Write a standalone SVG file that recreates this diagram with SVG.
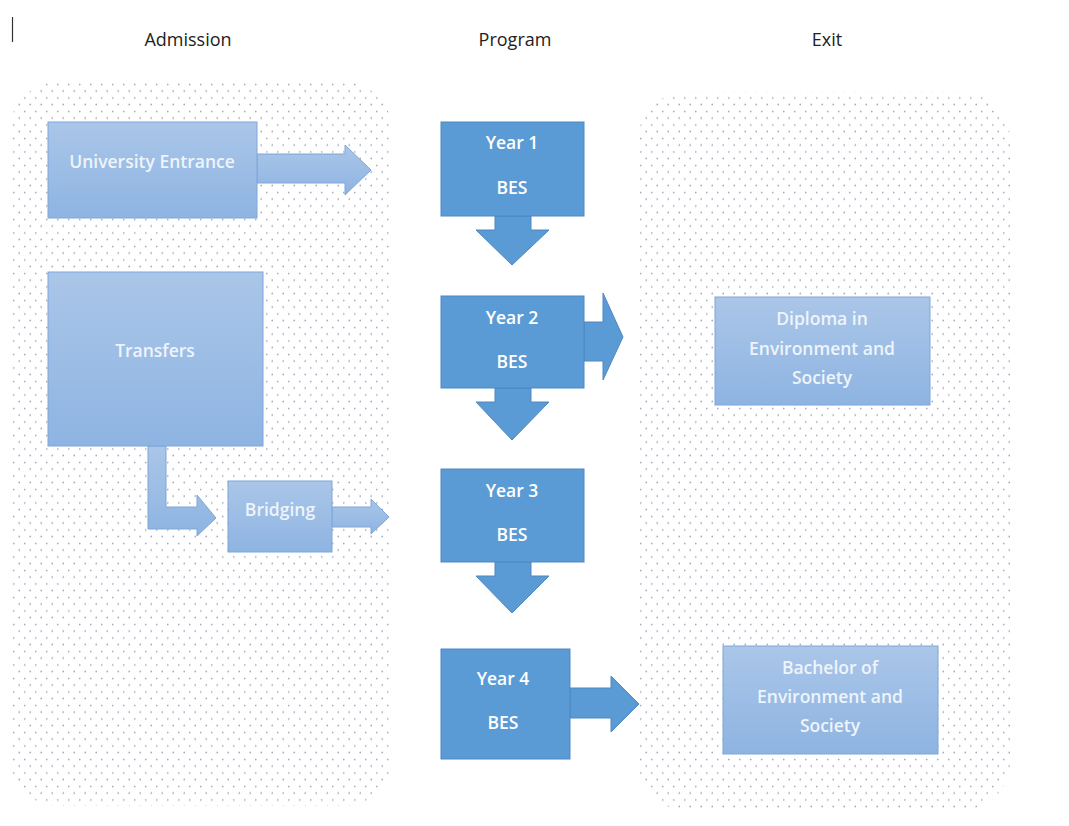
<svg xmlns="http://www.w3.org/2000/svg" width="1069" height="826" viewBox="0 0 1069 826">
<style>
.hdr{font-family:"Open Sans","Noto Sans",sans-serif;font-size:18px;fill:#222;text-anchor:middle}
.lbl{font-family:"Open Sans","Noto Sans",sans-serif;font-size:17.5px;font-weight:600;fill:#eef4fb;text-anchor:middle}
.yr{font-family:"Open Sans","Noto Sans",sans-serif;font-size:17.5px;font-weight:600;fill:#ffffff;text-anchor:middle}
.light{fill:url(#lg);stroke:#7ea6d8;stroke-width:1}
.dark{fill:#5b9bd5;stroke:#4f88c2;stroke-width:1}
.panel{fill:url(#dots)}
</style>
<defs>
<pattern id="dots" x="0" y="0" width="11" height="13.5" patternUnits="userSpaceOnUse">
<rect width="11" height="13.5" fill="#ffffff"/>
<circle cx="2.75" cy="3.4" r="0.85" fill="#98a6b8"/>
<circle cx="8.25" cy="10.1" r="0.85" fill="#98a6b8"/>
</pattern>
<linearGradient id="lg" x1="0" y1="0" x2="0" y2="1">
<stop offset="0" stop-color="#aac6e8"/>
<stop offset="1" stop-color="#8eb4e2"/>
</linearGradient>
</defs>
<rect width="1069" height="826" fill="#ffffff"/>
<line x1="12.5" y1="17" x2="12.5" y2="42" stroke="#333" stroke-width="1.2"/>
<g id="panels">
<rect class="panel" x="10" y="82" width="382" height="724" rx="48" ry="48"/>
<rect class="panel" x="638" y="92" width="372" height="718" rx="48" ry="48"/>
</g>
<g id="headers">
<text class="hdr" x="188" y="46">Admission</text>
<text class="hdr" x="515" y="46">Program</text>
<text class="hdr" x="827" y="46">Exit</text>
</g>
<g id="connectors">
<path class="light" d="M257,154 L345,154 L345,145 L371,170 L345,195 L345,183 L257,183 Z"/>
<path class="light" d="M148,446 L166,446 L166,507 L197,507 L197,495 L216,518 L197,536 L197,529 L148,529 Z"/>
<path class="light" d="M332,507 L371,507 L371,499 L389,517 L371,534 L371,527 L332,527 Z"/>
<path class="dark" d="M495,216 L531,216 L531,230 L549,230 L512,265 L476,230 L495,230 Z"/>
<path class="dark" d="M495,388 L531,388 L531,402 L549,402 L512,440 L476,402 L495,402 Z"/>
<path class="dark" d="M495,562 L531,562 L531,576 L549,576 L512,613 L476,576 L495,576 Z"/>
<path class="dark" d="M584,322 L603,322 L603,293 L623,337 L603,380 L603,361 L584,361 Z"/>
<path class="dark" d="M570,688 L611,688 L611,676 L639,704 L611,732 L611,718 L570,718 Z"/>
</g>
<g id="university-entrance">
<rect class="light" x="48" y="122" width="209" height="96"/>
<text class="lbl" x="152" y="168">University Entrance</text>
</g>
<g id="transfers">
<rect class="light" x="48" y="272" width="215" height="174"/>
<text class="lbl" x="155" y="357">Transfers</text>
</g>
<g id="bridging">
<rect class="light" x="228" y="481" width="104" height="71"/>
<text class="lbl" x="280" y="516">Bridging</text>
</g>
<g id="year1">
<rect class="dark" x="441" y="122" width="143" height="94"/>
<text class="yr" x="512" y="149">Year 1</text>
<text class="yr" x="512" y="194">BES</text>
</g>
<g id="year2">
<rect class="dark" x="441" y="296" width="143" height="92"/>
<text class="yr" x="512" y="324">Year 2</text>
<text class="yr" x="512" y="368">BES</text>
</g>
<g id="year3">
<rect class="dark" x="441" y="469" width="143" height="93"/>
<text class="yr" x="512" y="497">Year 3</text>
<text class="yr" x="512" y="541">BES</text>
</g>
<g id="year4">
<rect class="dark" x="441" y="649" width="129" height="110"/>
<text class="yr" x="503" y="685">Year 4</text>
<text class="yr" x="503" y="729">BES</text>
</g>
<g id="diploma">
<rect class="light" x="715" y="297" width="215" height="108"/>
<text class="lbl" x="822" y="325">Diploma in</text>
<text class="lbl" x="822" y="355">Environment and</text>
<text class="lbl" x="822" y="384">Society</text>
</g>
<g id="bachelor">
<rect class="light" x="723" y="646" width="215" height="108"/>
<text class="lbl" x="830" y="674">Bachelor of</text>
<text class="lbl" x="830" y="703">Environment and</text>
<text class="lbl" x="830" y="732">Society</text>
</g>
</svg>
